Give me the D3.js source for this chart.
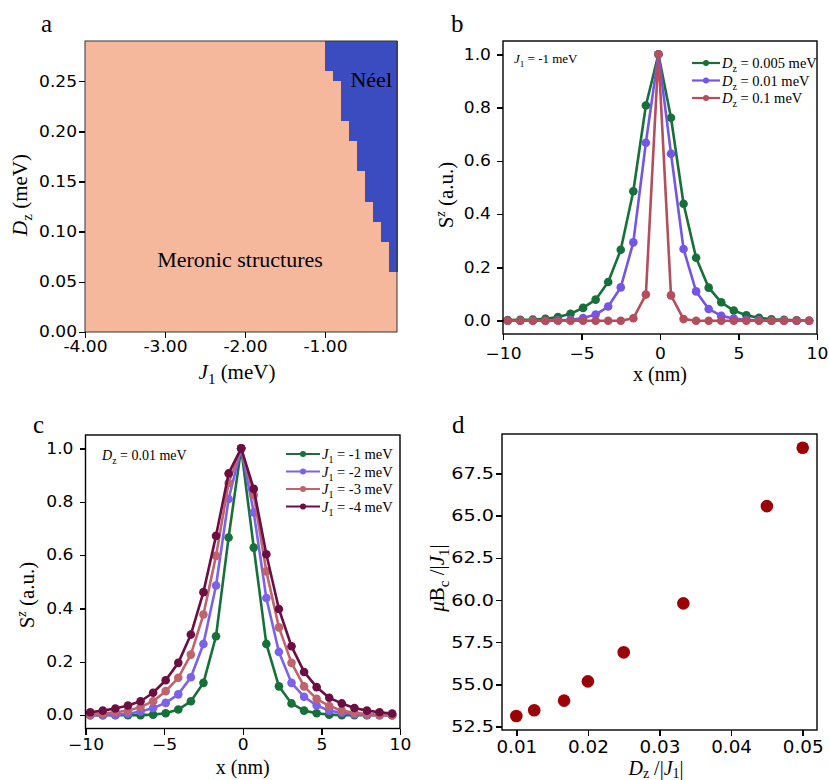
<!DOCTYPE html>
<html lang="en">
<head>
<meta charset="utf-8">
<title>Meron phase diagram and profiles</title>
<script src="https://cdnjs.cloudflare.com/ajax/libs/d3/7.8.5/d3.min.js"></script>
<style>
  body { margin: 0; background: #fff; }
  .axis path, .axis line { stroke: #000; stroke-width: 1.4; shape-rendering: crispEdges; }
  .axis text { font-family: "DejaVu Sans", sans-serif; fill: #000; }
  .serif { font-family: "Liberation Serif", "Times New Roman", serif; fill: #000; }
</style>
</head>
<body>
<script>
// ---- data ----

// panel a: Neel region, one column per J1 step (left edge), onset of Neel in Dz
var j1Columns = [-1.0, -0.9, -0.8, -0.7, -0.6, -0.5, -0.4, -0.3, -0.2];
var neelOnset = [0.26, 0.25, 0.21, 0.19, 0.16, 0.13, 0.11, 0.09, 0.06];
var j1Step = 0.1;

// panels b, c: site positions (nm)
var xPos = [-9.7, -8.9, -8.1, -7.3, -6.5, -5.7, -4.9, -4.1, -3.3, -2.5, -1.7, -0.9, -0.1,
            0.7, 1.5, 2.3, 3.1, 3.9, 4.7, 5.5, 6.3, 7.1, 7.9, 8.7, 9.5];

// panel b: J1 = -1 meV
var szDz005 = [0.002, 0.003, 0.004, 0.007, 0.014, 0.026, 0.048, 0.079, 0.145, 0.266, 0.486, 0.808, 1.0,
               0.762, 0.439, 0.236, 0.124, 0.069, 0.038, 0.020, 0.011, 0.005, 0.003, 0.001, 0.0];
var szDz01  = [0, 0, 0, 0, 0.001, 0.003, 0.010, 0.023, 0.053, 0.125, 0.294, 0.668, 1.0,
               0.627, 0.269, 0.110, 0.044, 0.018, 0.008, 0.003, 0.001, 0, 0, 0, 0];
var szDz1   = [0, 0, 0, 0, 0, 0, 0, 0, 0, 0, 0.009, 0.098, 1.0,
               0.095, 0.006, 0, 0, 0, 0, 0, 0, 0, 0, 0, 0];

// panel c: Dz = 0.01 meV
var szJ1 = [0, 0, 0, 0, 0, 0.002, 0.007, 0.021, 0.052, 0.121, 0.296, 0.666, 1.0,
            0.628, 0.267, 0.108, 0.044, 0.017, 0.007, 0.002, 0, 0, 0, 0, 0];
var szJ2 = [0, 0, 0.001, 0.005, 0.014, 0.027, 0.046, 0.078, 0.142, 0.267, 0.486, 0.81, 1.0,
            0.76, 0.439, 0.237, 0.121, 0.069, 0.036, 0.017, 0.009, 0.004, 0.001, 0, 0];
var szJ3 = [0.002, 0.006, 0.011, 0.017, 0.031, 0.052, 0.09, 0.14, 0.227, 0.377, 0.597, 0.87, 1.0,
            0.825, 0.539, 0.329, 0.196, 0.108, 0.061, 0.034, 0.017, 0.009, 0.004, 0.001, 0];
var szJ4 = [0.011, 0.017, 0.025, 0.036, 0.052, 0.084, 0.131, 0.196, 0.302, 0.461, 0.672, 0.906, 1.0,
            0.848, 0.603, 0.398, 0.258, 0.162, 0.105, 0.065, 0.044, 0.027, 0.017, 0.011, 0.006];

// panel d
var dzRatio = [0.01, 0.0125, 0.01667, 0.02, 0.025, 0.03333, 0.045, 0.05];
var bcRatio = [53.13, 53.47, 54.04, 55.18, 56.9, 59.8, 65.56, 69.02];

var svg = d3.select("body").append("svg")
    .attr("width", 829).attr("height", 780);

// widen tick text horizontally (the source figure is stretched)
function stretch(sel, sx) {
  sel.each(function() {
    var t = d3.select(this);
    var x = +t.attr("x") || 0;
    t.attr("x", 0).attr("transform", "translate(" + x + ",0) scale(" + sx + ",1)");
  });
}

function panelLetter(txt, x, y) {
  svg.append("text").attr("class", "serif").attr("x", x).attr("y", y)
    .style("font-size", "25px").text(txt);
}

// ================= panel a =================
(function() {
  var x0 = 85, x1 = 397, y0 = 41, y1 = 332;
  var xScale = d3.scaleLinear().domain([-4, -0.1]).range([x0, x1]);
  var yScale = d3.scaleLinear().domain([0, 0.29]).range([y1, y0]);
  var g = svg.append("g");

  g.append("rect").attr("x", x0).attr("y", y0).attr("width", x1 - x0).attr("height", y1 - y0)
    .attr("fill", "#f6b89d");

  g.selectAll("rect.neel").data(j1Columns).enter().append("rect")
    .attr("class", "neel")
    .attr("x", function(d) { return xScale(d); })
    .attr("width", function(d) { return xScale(d + j1Step) - xScale(d) + 0.6; })
    .attr("y", y0)
    .attr("height", function(d, i) { return yScale(neelOnset[i]) - y0; })
    .attr("fill", "#3b4cc0")
    .attr("shape-rendering", "crispEdges");

  g.append("rect").attr("x", x0).attr("y", y0).attr("width", x1 - x0).attr("height", y1 - y0)
    .attr("fill", "none").attr("stroke", "#333").attr("stroke-width", 1);

  var xAxis = d3.axisBottom(xScale).tickValues([-4, -3, -2, -1])
    .tickFormat(function(d) { return d.toFixed(2); }).tickSize(6).tickPadding(3);
  var yAxis = d3.axisLeft(yScale).tickValues([0, 0.05, 0.1, 0.15, 0.2, 0.25])
    .tickFormat(function(d) { return d.toFixed(2); }).tickSize(6).tickPadding(2);

  var ax = g.append("g").attr("class", "axis").attr("transform", "translate(0," + y1 + ")").call(xAxis);
  ax.select(".domain").remove();
  ax.selectAll("text").style("font-size", "15.5px");
  stretch(ax.selectAll("text"), 1.1);
  var ay = g.append("g").attr("class", "axis").attr("transform", "translate(" + x0 + ",0)").call(yAxis);
  ay.select(".domain").remove();
  ay.selectAll("text").style("font-size", "15.5px");
  stretch(ay.selectAll("text"), 1.1);

  g.append("text").attr("class", "serif").attr("x", 392).attr("y", 87)
    .attr("text-anchor", "end").style("font-size", "22px").text("Néel");
  g.append("text").attr("class", "serif").attr("x", 240).attr("y", 267)
    .attr("text-anchor", "middle").style("font-size", "22px").text("Meronic structures");

  var xl = g.append("text").attr("class", "serif").attr("x", 237).attr("y", 379)
    .attr("text-anchor", "middle").style("font-size", "21px");
  xl.append("tspan").style("font-style", "italic").text("J");
  xl.append("tspan").attr("dy", 5).style("font-size", "15px").text("1");
  xl.append("tspan").attr("dy", -5).text(" (meV)");

  var yl = g.append("text").attr("class", "serif")
    .attr("transform", "translate(27,195) rotate(-90)")
    .attr("text-anchor", "middle").style("font-size", "21px");
  yl.append("tspan").style("font-style", "italic").text("D");
  yl.append("tspan").attr("dy", 5).style("font-size", "15px").text("z");
  yl.append("tspan").attr("dy", -5).text(" (meV)");

  panelLetter("a", 41, 32);
})();

// ================= profile panels (b, c) =================
function profilePanel(o) {
  var xScale = d3.scaleLinear().domain([-10, 10]).range([o.x0, o.x1]);
  var yScale = d3.scaleLinear().domain([-0.05, 1.05]).range([o.y1, o.y0]);
  var g = svg.append("g");

  var line = d3.line()
    .x(function(d, i) { return xScale(xPos[i]); })
    .y(function(d) { return yScale(d); });

  o.series.forEach(function(s) {
    g.append("path").datum(s.values).attr("d", line)
      .attr("fill", "none").attr("stroke", s.color).attr("stroke-width", 2.6)
      .attr("stroke-linejoin", "round");
    g.selectAll(null).data(s.values).enter().append("circle")
      .attr("cx", function(d, i) { return xScale(xPos[i]); })
      .attr("cy", function(d) { return yScale(d); })
      .attr("r", 4.3).attr("fill", s.color);
  });

  g.append("rect").attr("x", o.x0).attr("y", o.y0).attr("width", o.x1 - o.x0).attr("height", o.y1 - o.y0)
    .attr("fill", "none").attr("stroke", "#000").attr("stroke-width", 1.4);

  var xAxis = d3.axisBottom(xScale).tickValues([-10, -5, 0, 5, 10]).tickSize(6).tickPadding(o.xPad);
  var yAxis = d3.axisLeft(yScale).tickValues([0, 0.2, 0.4, 0.6, 0.8, 1.0])
    .tickFormat(d3.format(".1f")).tickSize(6).tickPadding(6);
  var ax = g.append("g").attr("class", "axis").attr("transform", "translate(0," + o.y1 + ")").call(xAxis);
  ax.select(".domain").remove();
  ax.selectAll("text").style("font-size", "15px");
  stretch(ax.selectAll("text"), 1.14);
  var ay = g.append("g").attr("class", "axis").attr("transform", "translate(" + o.x0 + ",0)").call(yAxis);
  ay.select(".domain").remove();
  ay.selectAll("text").style("font-size", "15px");
  stretch(ay.selectAll("text"), 1.14);

  // legend
  o.series.forEach(function(s, i) {
    var ly = o.legY + i * o.legStep;
    g.append("line").attr("x1", o.legX).attr("x2", o.legX + o.legW).attr("y1", ly).attr("y2", ly)
      .attr("stroke", s.color).attr("stroke-width", 2.2);
    g.append("circle").attr("cx", o.legX + o.legW / 2).attr("cy", ly).attr("r", 3).attr("fill", s.color);
    var t = g.append("text").attr("class", "serif").attr("x", o.legX + o.legW + 2).attr("y", ly + 5)
      .style("font-size", "14.5px");
    t.append("tspan").style("font-style", "italic").text(s.sym);
    t.append("tspan").attr("dy", 4).style("font-size", "10px").text(s.sub);
    t.append("tspan").attr("dy", -4).text(s.rest);
  });

  // note
  var n = g.append("text").attr("class", "serif").attr("x", o.noteX).attr("y", o.noteY)
    .style("font-size", o.noteSize + "px");
  n.append("tspan").style("font-style", "italic").text(o.note[0]);
  n.append("tspan").attr("dy", 4).style("font-size", (o.noteSize * 0.7) + "px").text(o.note[1]);
  n.append("tspan").attr("dy", -4).text(o.note[2]);

  g.append("text").attr("class", "serif").attr("x", (o.x0 + o.x1) / 2).attr("y", o.xLabY)
    .attr("text-anchor", "middle").style("font-size", "20px").text("x (nm)");

  var yl = g.append("text").attr("class", "serif")
    .attr("transform", "translate(" + o.yLabX + "," + o.yLabY + ") rotate(-90)")
    .attr("text-anchor", "middle").style("font-size", "21px");
  yl.append("tspan").text("S");
  yl.append("tspan").attr("dy", -8).style("font-size", "14px").style("font-style", "italic").text("z");
  yl.append("tspan").attr("dy", 8).text(" (a.u.)");
}

profilePanel({
  x0: 503, x1: 817, y0: 41, y1: 334, xPad: 8,
  series: [
    { values: szDz005, color: "#17703a", sym: "D", sub: "z", rest: " = 0.005 meV" },
    { values: szDz01,  color: "#7455e6", sym: "D", sub: "z", rest: " = 0.01 meV" },
    { values: szDz1,   color: "#b44d5c", sym: "D", sub: "z", rest: " = 0.1 meV" }
  ],
  legX: 692, legW: 28, legY: 63, legStep: 17.5,
  note: ["J", "1", " = -1 meV"], noteX: 514, noteY: 63, noteSize: 13,
  xLabY: 381, yLabX: 453, yLabY: 195
});

profilePanel({
  x0: 85.5, x1: 400, y0: 435, y1: 728.5, xPad: 5,
  series: [
    { values: szJ1, color: "#17703a", sym: "J", sub: "1", rest: " = -1 meV" },
    { values: szJ2, color: "#7b62ea", sym: "J", sub: "1", rest: " = -2 meV" },
    { values: szJ3, color: "#c0636d", sym: "J", sub: "1", rest: " = -3 meV" },
    { values: szJ4, color: "#6b0f43", sym: "J", sub: "1", rest: " = -4 meV" }
  ],
  legX: 286, legW: 34, legY: 454, legStep: 17.5,
  note: ["D", "z", " = 0.01 meV"], noteX: 102, noteY: 460, noteSize: 14,
  xLabY: 774, yLabX: 34, yLabY: 595
});

panelLetter("b", 451, 32);
panelLetter("c", 33, 433);

// ================= panel d =================
(function() {
  var x0 = 502, x1 = 817, y0 = 434, y1 = 730;
  var xScale = d3.scaleLinear().domain([0.008, 0.052]).range([x0, x1]);
  var yScale = d3.scaleLinear().domain([52.3, 69.83]).range([y1, y0]);
  var g = svg.append("g");

  g.selectAll("circle").data(dzRatio).enter().append("circle")
    .attr("cx", function(d) { return xScale(d); })
    .attr("cy", function(d, i) { return yScale(bcRatio[i]); })
    .attr("r", 6.3).attr("fill", "#9c0306");

  g.append("rect").attr("x", x0).attr("y", y0).attr("width", x1 - x0).attr("height", y1 - y0)
    .attr("fill", "none").attr("stroke", "#000").attr("stroke-width", 1.4);

  var xAxis = d3.axisBottom(xScale).tickValues([0.01, 0.02, 0.03, 0.04, 0.05])
    .tickFormat(d3.format(".2f")).tickSize(6).tickPadding(5);
  var yAxis = d3.axisLeft(yScale).tickValues([52.5, 55, 57.5, 60, 62.5, 65, 67.5])
    .tickFormat(d3.format(".1f")).tickSize(6).tickPadding(2);
  var ax = g.append("g").attr("class", "axis").attr("transform", "translate(0," + y1 + ")").call(xAxis);
  ax.select(".domain").remove();
  ax.selectAll("text").style("font-size", "17px");
  stretch(ax.selectAll("text"), 1.08);
  var ay = g.append("g").attr("class", "axis").attr("transform", "translate(" + x0 + ",0)").call(yAxis);
  ay.select(".domain").remove();
  ay.selectAll("text").style("font-size", "16px");
  stretch(ay.selectAll("text"), 1.2);

  var xl = g.append("text").attr("class", "serif").attr("x", 656).attr("y", 775)
    .attr("text-anchor", "middle").style("font-size", "20px");
  xl.append("tspan").style("font-style", "italic").text("D");
  xl.append("tspan").attr("dy", 3).style("font-size", "14px").text("z");
  xl.append("tspan").attr("dy", -3).text(" /|");
  xl.append("tspan").style("font-style", "italic").text("J");
  xl.append("tspan").attr("dy", 3).style("font-size", "14px").text("1");
  xl.append("tspan").attr("dy", -3).text("|");

  var yl = g.append("text").attr("class", "serif")
    .attr("transform", "translate(444,578) rotate(-90)")
    .attr("text-anchor", "middle").style("font-size", "21px");
  yl.append("tspan").style("font-style", "italic").text("μ");
  yl.append("tspan").text("B");
  yl.append("tspan").attr("dy", 5).style("font-size", "15px").text("c");
  yl.append("tspan").attr("dy", -5).text(" /|");
  yl.append("tspan").style("font-style", "italic").text("J");
  yl.append("tspan").attr("dy", 5).style("font-size", "15px").text("1");
  yl.append("tspan").attr("dy", -5).text("|");

  panelLetter("d", 452, 433);
})();
</script>
</body>
</html>
